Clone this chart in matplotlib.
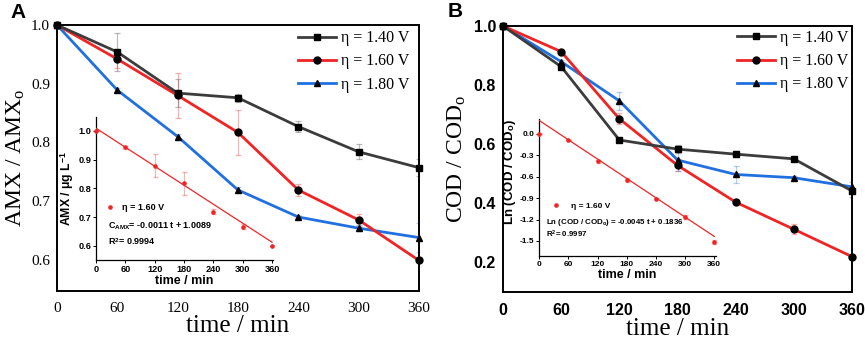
import matplotlib
matplotlib.use("Agg")
import matplotlib.pyplot as plt
import numpy as np

plt.rcParams["mathtext.fontset"] = "custom"
plt.rcParams["mathtext.rm"] = "Liberation Serif"
plt.rcParams["mathtext.bf"] = "Liberation Sans:bold"
plt.rcParams["mathtext.it"] = "Liberation Serif:italic"

# ---------------- data ----------------
time = [0, 60, 120, 180, 240, 300, 360]
series_labels = ["η = 1.40 V", "η = 1.60 V", "η = 1.80 V"]

amx_140 = [1.0, 0.954, 0.884, 0.876, 0.827, 0.784, 0.757]
amx_160 = [1.0, 0.942, 0.880, 0.817, 0.719, 0.668, 0.599]
amx_180 = [1.0, 0.889, 0.810, 0.719, 0.673, 0.654, 0.638]
amx_140_err = [0.0, 0.033, 0.024, 0.007, 0.010, 0.013, 0.015]
amx_160_err = [0.0, 0.015, 0.038, 0.038, 0.010, 0.010, 0.0]
amx_180_err = [0.0, 0.003, 0.004, 0.005, 0.004, 0.005, 0.025]

cod_140 = [1.0, 0.862, 0.613, 0.582, 0.565, 0.549, 0.440]
cod_160 = [1.0, 0.913, 0.685, 0.527, 0.402, 0.310, 0.217]
cod_180 = [1.0, 0.879, 0.746, 0.545, 0.496, 0.485, 0.454]
cod_140_err = [0.0, 0.005, 0.005, 0.014, 0.010, 0.006, 0.020]
cod_160_err = [0.0, 0.005, 0.018, 0.020, 0.006, 0.017, 0.006]
cod_180_err = [0.0, 0.006, 0.030, 0.037, 0.029, 0.006, 0.017]

inset_a_time = [0, 60, 120, 180, 240, 300, 360]
inset_a_amx = [1.0, 0.942, 0.878, 0.817, 0.719, 0.667, 0.600]
inset_a_err = [0.0, 0.004, 0.040, 0.040, 0.008, 0.010, 0.0]
inset_a_slope, inset_a_intercept = -0.0011, 1.0089

inset_b_time = [0, 60, 120, 180, 240, 300, 360]
inset_b_ln = [0.0, -0.088, -0.386, -0.647, -0.912, -1.168, -1.517]
inset_b_err = [0.0, 0.006, 0.020, 0.025, 0.008, 0.030, 0.025]
inset_b_slope, inset_b_intercept = -0.0045, 0.1836

time_ticks = [0, 60, 120, 180, 240, 300, 360]
a_yticks = [0.6, 0.7, 0.8, 0.9, 1.0]
b_yticks = [0.2, 0.4, 0.6, 0.8, 1.0]
ia_yticks = [0.6, 0.7, 0.8, 0.9, 1.0]
ib_yticks = [0.0, -0.3, -0.6, -0.9, -1.2, -1.5]

# ---------------- style ----------------
C_BLK_LINE = "#3c3c3c"
C_RED = "#f02424"
C_BLUE = "#2070e0"
colors = [C_BLK_LINE, C_RED, C_BLUE]
markers = ["s", "o", "^"]
SERIF = ["Liberation Serif", "DejaVu Serif"]
SANS = ["Liberation Sans", "DejaVu Sans"]

fig = plt.figure(figsize=(8.65, 3.4), dpi=100)

axA = fig.add_axes([0.0659, 0.1441, 0.4185, 0.7824])
axB = fig.add_axes([0.5815, 0.1420, 0.4035, 0.7815])


def main_series(ax, ys, errs):
    for i, (y, e) in enumerate(zip(ys, errs)):
        ax.errorbar(time, y, yerr=e, fmt="none", ecolor=colors[i], alpha=0.35,
                    elinewidth=0.9, capsize=2.2, capthick=0.9, zorder=2)
    handles = []
    for i in [2, 1, 0]:
        h, = ax.plot(time, ys[i], color=colors[i], lw=2.0, marker=markers[i],
                     ms=5, mfc="black", mec="black", zorder=3 + (2 - i),
                     label=series_labels[i], clip_on=False)
        handles.append(h)
    return handles[::-1]


for ax in (axA, axB):
    for s in ax.spines.values():
        s.set_linewidth(1.4)
        s.set_color("black")
    ax.set_xlim(0, 360)
    ax.set_xticks(time_ticks)
    ax.tick_params(length=0)
    ax.tick_params(axis="x", pad=8)
    ax.tick_params(axis="y", pad=5)

# Panel A
hA = main_series(axA, [amx_140, amx_160, amx_180], [amx_140_err, amx_160_err, amx_180_err])
axA.set_ylim(0.547, 1.0)
axA.set_yticks(a_yticks)
axA.set_yticklabels([f"{v:.1f}" for v in a_yticks], family=SERIF, fontsize=11)
axA.set_xticklabels([str(t) for t in time_ticks], family=SERIF, fontsize=11)
axA.set_xlabel("time / min", family=SERIF, fontsize=18, labelpad=0)
axA.set_ylabel("AMX / AMX$_\\mathrm{o}$", family=SERIF, fontsize=17, labelpad=3)
axA.legend(handles=hA, loc="upper left", bbox_to_anchor=(0.665, 0.98),
           frameon=False, prop={"family": SERIF, "size": 11.5},
           handlelength=2.4, handletextpad=0.3, labelspacing=0.45,
           borderaxespad=0, borderpad=0)

# Panel B
hB = main_series(axB, [cod_140, cod_160, cod_180], [cod_140_err, cod_160_err, cod_180_err])
axB.set_ylim(0.098, 1.0)
axB.set_yticks(b_yticks)
axB.set_yticklabels([f"{v:.1f}" for v in b_yticks], family=SANS, fontsize=11.5, fontweight="bold")
axB.set_xticklabels([str(t) for t in time_ticks], family=SANS, fontsize=11.5, fontweight="bold")
axB.set_xlabel("time / min", family=SERIF, fontsize=18, labelpad=0)
axB.set_ylabel("COD / COD$_\\mathrm{o}$", family=SERIF, fontsize=17, labelpad=4)
axB.legend(handles=hB, loc="upper left", bbox_to_anchor=(0.67, 0.985),
           frameon=False, prop={"family": SERIF, "size": 11.5},
           handlelength=2.4, handletextpad=0.3, labelspacing=0.45,
           borderaxespad=0, borderpad=0)


def style_inset(ax):
    ax.patch.set_alpha(0)
    for side in ("top", "right"):
        ax.spines[side].set_visible(False)
    for side in ("left", "bottom"):
        ax.spines[side].set_linewidth(0.9)
    ax.tick_params(length=2, width=0.7, pad=1.5, labelsize=6.6)
    for lab in ax.get_xticklabels() + ax.get_yticklabels():
        lab.set_fontweight("bold")
        lab.set_family(SANS)


# Inset A
iA = fig.add_axes([0.111, 0.2353, 0.2046, 0.4206])
iA.set_xlim(0, 362)
iA.set_ylim(0.551, 1.048)
iA.set_xticks(time_ticks)
iA.set_yticks(ia_yticks)
iA.set_yticklabels([f"{v:.1f}" for v in ia_yticks])
fitx = np.array([inset_a_time[0], inset_a_time[-1]])
iA.plot(fitx, inset_a_slope * fitx + inset_a_intercept, color=C_RED, lw=0.9, zorder=3)
iA.errorbar(inset_a_time, inset_a_amx, yerr=inset_a_err, fmt="none", ecolor=C_RED,
            alpha=0.35, elinewidth=0.8, capsize=1.8, zorder=2)
pA, = iA.plot(inset_a_time, inset_a_amx, ls="none", marker="o", ms=2.3, color=C_RED,
              zorder=4, clip_on=False, label="η = 1.60 V")
style_inset(iA)
iA.set_xlabel("time / min", family=SANS, fontsize=9, fontweight="bold", labelpad=1)
iA.set_ylabel("AMX / μg L$^\\mathbf{-1}$", family=SANS, fontsize=8.8, fontweight="bold", labelpad=2)
iA.legend(handles=[pA], loc="upper left", bbox_to_anchor=(0.04, 0.40), frameon=False,
          prop={"family": SANS, "size": 6.5, "weight": "bold"}, handlelength=1.5,
          handletextpad=0.6, borderpad=0, borderaxespad=0)
iA.text(0.07, 0.235, "C$_\\mathbf{AMX}$= -0.0011 t + 1.0089", transform=iA.transAxes,
        family=SANS, fontsize=6.5, fontweight="bold", va="center")
iA.text(0.07, 0.13, "R$^\\mathbf{2}$= 0.9994", transform=iA.transAxes,
        family=SANS, fontsize=6.5, fontweight="bold", va="center")

# Inset B
iB = fig.add_axes([0.6235, 0.2471, 0.2039, 0.4029])
iB.set_xlim(0, 363)
iB.set_ylim(-1.71, 0.205)
iB.set_xticks(time_ticks)
iB.set_yticks(ib_yticks)
iB.set_yticklabels([f"{v:.1f}" for v in ib_yticks])
fitx = np.array([inset_b_time[0], inset_b_time[-1]])
iB.plot(fitx, inset_b_slope * fitx + inset_b_intercept, color=C_RED, lw=0.9, zorder=3)
iB.errorbar(inset_b_time, inset_b_ln, yerr=inset_b_err, fmt="none", ecolor=C_RED,
            alpha=0.35, elinewidth=0.8, capsize=1.8, zorder=2)
pB, = iB.plot(inset_b_time, inset_b_ln, ls="none", marker="o", ms=2.3, color=C_RED,
              zorder=4, clip_on=False, label="η = 1.60 V")
style_inset(iB)
iB.tick_params(labelsize=6.0)
iB.set_xlabel("time / min", family=SANS, fontsize=9, fontweight="bold", labelpad=1)
iB.set_ylabel("Ln (COD / COD$_\\mathbf{o}$)", family=SANS, fontsize=9.5, fontweight="bold", labelpad=1)
iB.yaxis.set_label_coords(-0.12, 0.61)
iB.legend(handles=[pB], loc="upper left", bbox_to_anchor=(0.06, 0.39), frameon=False,
          prop={"family": SANS, "size": 6.0, "weight": "bold"}, handlelength=1.5,
          handletextpad=1.0, borderpad=0, borderaxespad=0)
iB.text(0.04, 0.245, "Ln (COD / COD$_\\mathbf{o}$) = -0.0045 t + 0.1836", transform=iB.transAxes,
        family=SANS, fontsize=5.7, fontweight="bold", va="center")
iB.text(0.04, 0.155, "R$^\\mathbf{2}$= 0.9997", transform=iB.transAxes,
        family=SANS, fontsize=5.7, fontweight="bold", va="center")

fig.text(0.012, 0.962, "A", family=SANS, fontsize=15, fontweight="bold", va="center", ha="left")
fig.text(0.518, 0.965, "B", family=SANS, fontsize=15, fontweight="bold", va="center", ha="left")

fig.savefig("out.png", dpi=100)
